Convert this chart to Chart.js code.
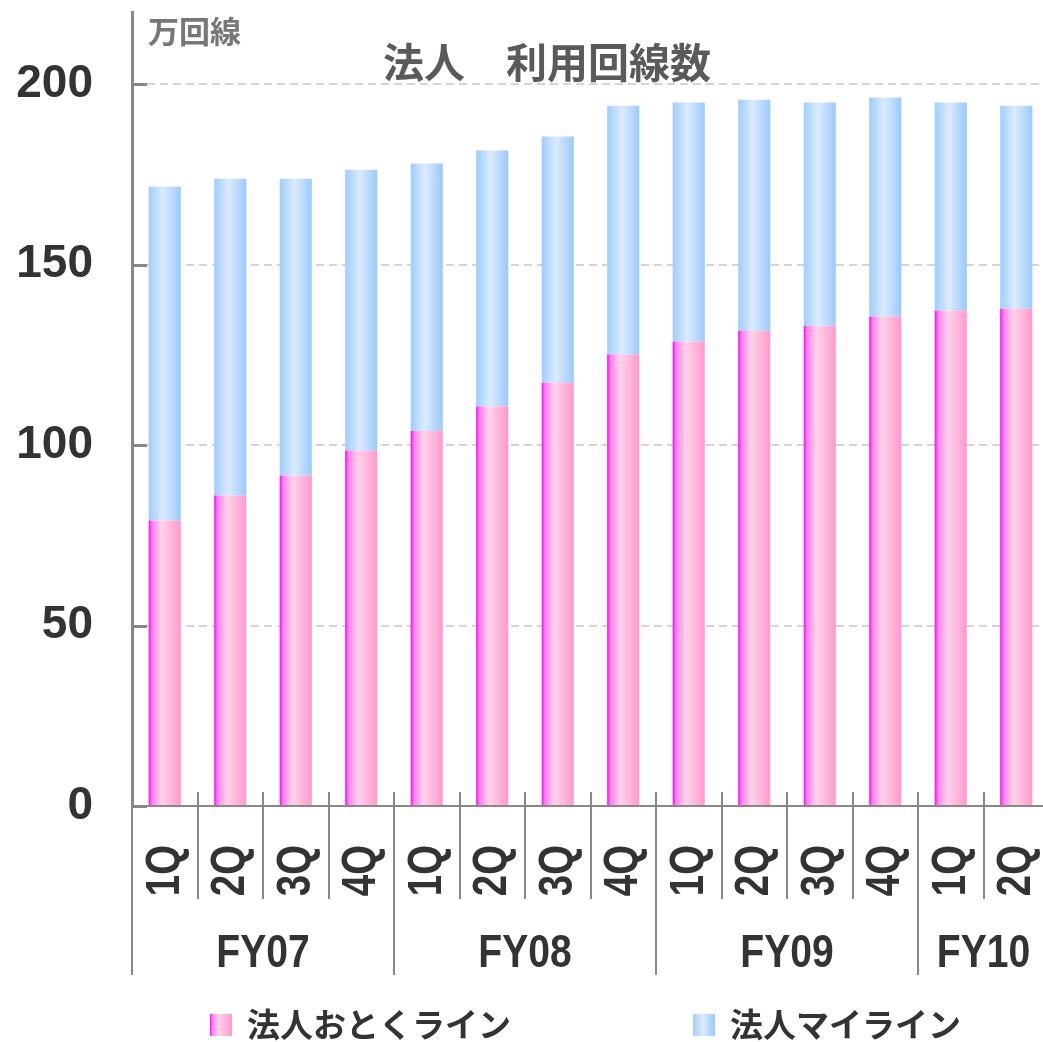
<!DOCTYPE html>
<html><head><meta charset="utf-8">
<script src="https://cdn.jsdelivr.net/npm/chart.js@4.4.0/dist/chart.umd.min.js"></script>
<style>html,body{margin:0;padding:0;overflow:hidden;background:#fff}canvas{display:block}</style>
</head><body>
<canvas id="c" width="1050" height="1042" style="width:1050px;height:1042px"></canvas>
<script>
// ---- data ----
const categories = ['1Q','2Q','3Q','4Q','1Q','2Q','3Q','4Q','1Q','2Q','3Q','4Q','1Q','2Q'];
const fiscalYears = ['FY07','FY08','FY09','FY10'];
const fiscalYearQuarters = [4,4,4,2];
const otokuLine = [79.1, 86.0, 91.6, 98.5, 104.0, 110.7, 117.3, 125.1, 128.7, 131.7, 133.1, 135.6, 137.3, 137.8];
const myLine    = [92.5, 87.8, 82.2, 77.8, 74.0, 70.9, 68.2, 68.9, 66.2, 64.0, 61.8, 60.7, 57.6, 56.2];
const seriesNames = ['法人おとくライン','法人マイライン'];
const yTicks = [0, 50, 100, 150, 200];
const titleText = '法人　利用回線数';
const unitText = '万回線';

// ---- style ----
const SANS = "'Liberation Sans',Arial,sans-serif";
const CJK = "'Noto Sans CJK JP','Noto Sans',sans-serif";
const BAR_PCT = 0.49;
const AXIS = '#888888';

function pinkGrad(ctx, x0, x1) {
  const g = ctx.createLinearGradient(x0, 0, x1, 0);
  g.addColorStop(0, '#ff00ff');
  g.addColorStop(0.1, '#ff7eee');
  g.addColorStop(0.4, '#ffd3ea');
  g.addColorStop(1, '#ff99cc');
  return g;
}
function blueGrad(ctx, x0, x1) {
  const g = ctx.createLinearGradient(x0, 0, x1, 0);
  g.addColorStop(0, '#9ecdff');
  g.addColorStop(0.45, '#dcebff');
  g.addColorStop(1, '#99c9ff');
  return g;
}
function barFill(kind) {
  return (c) => {
    const chart = c.chart, xs = chart.scales.x;
    if (!xs || c.dataIndex === undefined || !xs.width) return kind === 'pink' ? '#ffaadd' : '#b8d9ff';
    const cw = xs.width / categories.length;
    const w = cw * BAR_PCT;
    const cx = xs.getPixelForValue(c.dataIndex);
    return (kind === 'pink' ? pinkGrad : blueGrad)(chart.ctx, cx - w / 2, cx + w / 2);
  };
}
function zeroPad(s) { s.paddingTop = 0; s.paddingBottom = 0; s.paddingLeft = 0; s.paddingRight = 0; }

const decor = {
  id: 'decor',
  afterDraw(chart) {
    const ctx = chart.ctx, ca = chart.chartArea, xs = chart.scales.x, ys = chart.scales.y;
    ctx.save();
    // inner y tick marks
    ctx.strokeStyle = AXIS; ctx.lineWidth = 3;
    yTicks.forEach(v => {
      const y = Math.round(ys.getPixelForValue(v)) + 0.5;
      ctx.beginPath(); ctx.moveTo(ca.left, y); ctx.lineTo(ca.left + 15, y); ctx.stroke();
    });
    // category separators
    const cw = (ca.right - ca.left) / categories.length;
    const groupStarts = new Set();
    let acc = 0;
    fiscalYearQuarters.forEach(n => { groupStarts.add(acc); acc += n; });
    ctx.lineWidth = 2;
    for (let i = 0; i < categories.length; i++) {
      const x = Math.round(xs.getPixelForValue(i) - cw / 2);
      const isGroup = groupStarts.has(i);
      ctx.beginPath();
      ctx.moveTo(x, ca.bottom - 14);
      ctx.lineTo(x, isGroup ? 975 : 899);
      ctx.stroke();
    }
    // quarter labels (rotated, condensed)
    ctx.fillStyle = '#333333';
    const qSize = 48, qCap = qSize * 0.716;
    ctx.font = 'bold ' + qSize + 'px ' + SANS;
    categories.forEach((q, i) => {
      const cx = xs.getPixelForValue(i);
      ctx.save();
      ctx.translate(cx + qCap / 2 - 3, ca.bottom + 39);
      ctx.rotate(-Math.PI / 2);
      ctx.scale(0.8, 1);
      ctx.textAlign = 'right'; ctx.textBaseline = 'alphabetic';
      ctx.fillText(q, 0, 0);
      ctx.restore();
    });
    // fiscal year labels (condensed)
    ctx.font = 'bold 46px ' + SANS;
    acc = 0;
    fiscalYears.forEach((fy, k) => {
      const s = xs.getPixelForValue(acc) - cw / 2;
      acc += fiscalYearQuarters[k];
      const e = xs.getPixelForValue(acc - 1) + cw / 2;
      ctx.save();
      ctx.translate((s + e) / 2, 967);
      ctx.scale(0.85, 1);
      ctx.textAlign = 'center'; ctx.textBaseline = 'alphabetic';
      ctx.fillText(fy, 0, 0);
      ctx.restore();
    });
    // title + unit
    ctx.textAlign = 'center'; ctx.textBaseline = 'middle';
    ctx.fillStyle = '#5a5a5a';
    ctx.font = 'bold 41px ' + CJK;
    ctx.fillText(titleText, 547, 62);
    ctx.fillStyle = '#777777';
    ctx.font = 'bold 31px ' + CJK;
    ctx.textAlign = 'left';
    ctx.fillText(unitText, 148, 31);
    // legend
    const items = [
      {x: 210, tx: 247, grad: pinkGrad, text: seriesNames[0]},
      {x: 693, tx: 730, grad: blueGrad, text: seriesNames[1]}
    ];
    items.forEach(it => {
      ctx.fillStyle = it.grad(ctx, it.x, it.x + 22);
      ctx.fillRect(it.x, 1014, 22, 22);
      ctx.fillStyle = '#333333';
      ctx.font = 'bold 33px ' + CJK;
      ctx.textAlign = 'left'; ctx.textBaseline = 'middle';
      ctx.fillText(it.text, it.tx, 1024);
    });
    ctx.restore();
  }
};

new Chart(document.getElementById('c'), {
  type: 'bar',
  data: {
    labels: categories,
    datasets: [
      {label: seriesNames[0], data: otokuLine, backgroundColor: barFill('pink'), borderWidth: 0},
      {label: seriesNames[1], data: myLine, backgroundColor: barFill('blue'), borderWidth: 0}
    ]
  },
  options: {
    responsive: false,
    animation: false,
    devicePixelRatio: 1,
    layout: {padding: {top: 12, right: 1, left: 0, bottom: 0}},
    datasets: {bar: {barPercentage: BAR_PCT, categoryPercentage: 1}},
    plugins: {legend: {display: false}, title: {display: false}, tooltip: {enabled: false}},
    scales: {
      x: {
        stacked: true,
        offset: true,
        grid: {display: false, drawTicks: false},
        border: {display: true, color: AXIS, width: 2},
        ticks: {display: false},
        afterFit(s) { s.height = 236; zeroPad(s); }
      },
      y: {
        stacked: true,
        min: 0, max: 220,
        ticks: {stepSize: 50, padding: 39, color: '#333333', font: {family: SANS, size: 46, weight: 'bold'}},
        afterBuildTicks(s) { s.ticks = s.ticks.filter(t => yTicks.includes(t.value)); },
        grid: {
          drawTicks: false, lineWidth: 2,
          color: (c) => (c.tick && c.tick.value === 0) ? 'rgba(0,0,0,0)' : '#d4d4d4'
        },
        border: {display: true, color: AXIS, width: 3, dash: [8, 5]},
        afterFit(s) { s.width = 132; zeroPad(s); }
      }
    }
  },
  plugins: [decor]
});
</script>
</body></html>
